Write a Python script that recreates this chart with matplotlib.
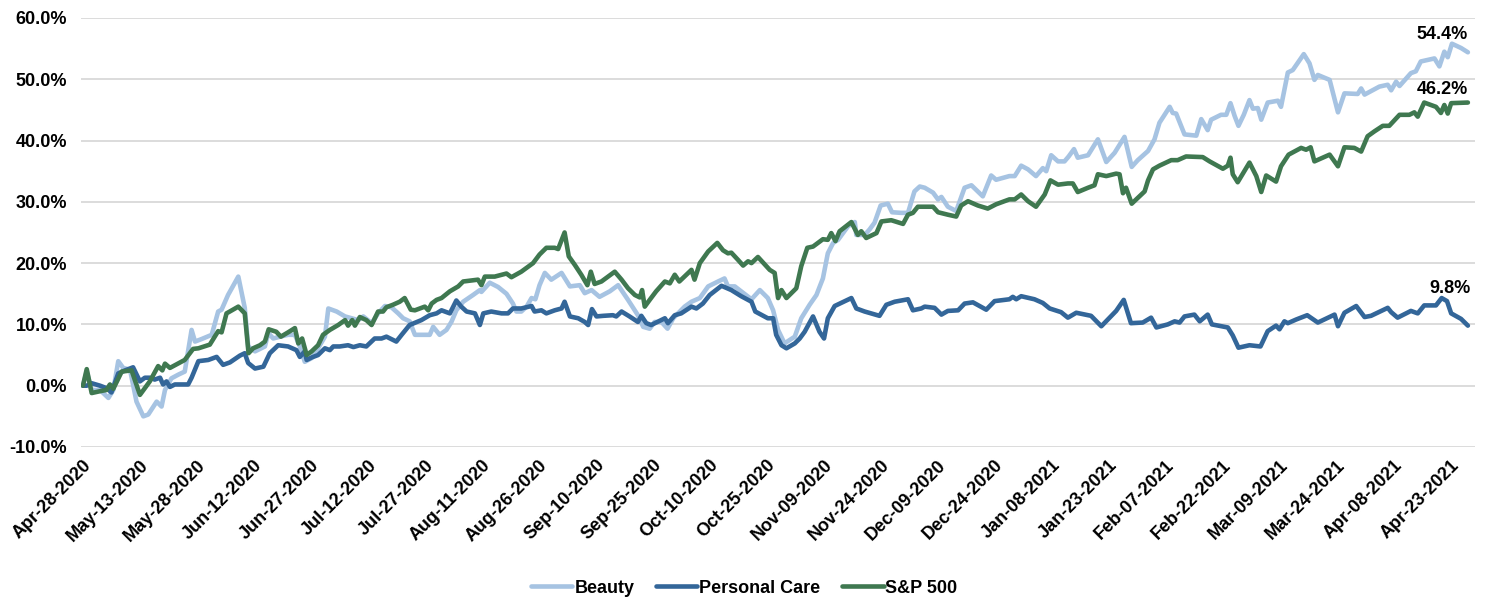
import datetime as dt
import matplotlib
matplotlib.use("Agg")
import matplotlib.pyplot as plt
import matplotlib.dates as mdates

base_date = dt.date(2020, 4, 28)

beauty_days = [
    0, 1.0, 2.3, 4.5, 6.7, 8.0, 9.3, 10.6, 12.4, 14.1,
    15.9, 17.2, 19.4, 20.7, 21.6, 23.3, 25.1, 26.8, 28.6, 29.5,
    31.2, 33.9, 35.6, 36.5, 38.2, 40.9, 42.6, 43.5, 45.3, 47.9,
    48.8, 50.1, 51.9, 54.0, 55.8, 57.1, 58.4, 60.2, 61.9, 63.7,
    64.6, 66.8, 69.0, 70.7, 72.5, 73.8, 76.0, 77.7, 79.5, 81.2,
    83.0, 84.3, 86.0, 87.4, 91.3, 92.2, 93.9, 95.7, 97.0, 98.3,
    100.1, 102.7, 104.5, 104.9, 107.1, 109.3, 111.5, 113.2, 114.1, 115.4,
    116.8, 118.1, 119.1, 120.2, 121.6, 123.3, 126.0, 128.2, 130.8, 132.1,
    133.9, 136.0, 138.7, 140.9, 143.5, 146.1, 147.5, 149.2, 150.5, 152.3,
    153.9, 155.4, 158.4, 160.2, 162.4, 164.6, 167.2, 168.9, 169.8, 171.6,
    176.0, 178.2, 180.3, 181.7, 183.0, 184.7, 187.4, 189.1, 191.3, 193.1,
    194.8, 196.1, 197.5, 198.8, 201.4, 203.2, 203.6, 205.8, 207.1, 208.4,
    210.0, 211.9, 213.0, 215.4, 217.2, 218.9, 220.3, 221.6, 223.8, 225.1,
    226.0, 227.7, 229.9, 232.1, 233.9, 236.9, 239.1, 240.4, 243.9, 245.3,
    247.0, 248.8, 250.9, 252.7, 253.6, 254.9, 256.7, 258.4, 259.5, 260.9,
    261.9, 264.6, 267.2, 269.4, 271.6, 274.2, 276.1, 277.7, 280.4, 282.1,
    283.4, 286.1, 286.9, 287.8, 290.0, 293.1, 294.4, 296.1, 297.0, 299.6,
    301.0, 302.1, 303.2, 304.2, 305.6, 307.1, 308.0, 309.3, 310.2, 311.9,
    314.6, 315.4, 317.2, 318.5, 321.4, 322.9, 324.2, 325.1, 328.2, 330.4,
    332.1, 335.6, 336.5, 337.4, 341.3, 343.5, 344.4, 345.7, 346.6, 349.6,
    350.9, 352.2, 355.8, 357.1, 358.4, 359.3, 360.4, 362.8, 364.6,
]
beauty_pct = [
    0.0, 2.3, -0.7, -0.7, -2.0, -0.7, 4.0, 2.9, 2.6, -2.6,
    -5.0, -4.7, -2.6, -3.4, -0.7, 1.2, 1.8, 2.3, 9.1, 7.2,
    7.6, 8.3, 12.1, 12.4, 14.8, 17.8, 12.7, 6.4, 5.6, 6.4,
    8.6, 7.7, 8.0, 8.3, 8.3, 6.4, 3.9, 4.5, 6.1, 8.0,
    12.6, 12.1, 11.3, 11.0, 10.7, 11.3, 10.2, 11.8, 13.0, 12.8,
    11.8, 11.0, 10.5, 8.3, 8.3, 9.6, 8.3, 9.1, 10.4, 12.3,
    13.7, 14.8, 15.6, 15.3, 16.8, 16.1, 15.0, 13.4, 12.1, 12.1,
    12.9, 14.3, 14.1, 16.4, 18.4, 17.3, 18.4, 16.2, 16.4, 15.1,
    15.6, 14.5, 15.4, 16.4, 14.0, 11.5, 9.6, 9.3, 10.4, 10.4,
    9.3, 11.0, 12.9, 13.7, 14.3, 16.2, 17.0, 17.5, 16.2, 16.2,
    14.1, 15.6, 14.3, 12.3, 9.1, 6.9, 8.0, 11.0, 13.2, 14.8,
    17.5, 21.6, 23.3, 23.8, 26.0, 26.7, 24.6, 24.6, 25.5, 26.6,
    29.4, 29.7, 28.3, 28.2, 28.2, 31.7, 32.5, 32.3, 31.5, 30.4,
    30.8, 29.2, 28.5, 32.3, 32.7, 30.9, 34.3, 33.6, 34.2, 34.2,
    35.9, 35.3, 34.2, 35.5, 35.0, 37.6, 36.6, 36.6, 37.4, 38.6,
    37.2, 37.6, 40.2, 36.5, 38.0, 40.6, 35.7, 36.8, 38.3, 40.2,
    42.9, 45.5, 44.5, 44.4, 41.0, 40.8, 43.5, 41.7, 43.4, 44.2,
    44.2, 46.1, 44.0, 42.4, 44.2, 46.6, 45.2, 45.3, 43.4, 46.2,
    46.5, 45.5, 51.1, 51.5, 54.1, 52.6, 49.9, 50.7, 49.9, 44.6,
    47.7, 47.6, 48.5, 47.5, 48.8, 49.1, 48.2, 49.6, 48.9, 51.0,
    51.3, 52.9, 53.4, 52.1, 54.5, 53.6, 55.8, 55.1, 54.4,
]

care_days = [
    0, 1.0, 2.3, 4.5, 6.2, 7.5, 9.3, 11.1, 13.2, 15.0,
    16.3, 17.6, 18.9, 20.3, 21.1, 22.0, 22.9, 24.2, 27.7, 28.6,
    30.4, 33.0, 35.2, 36.9, 38.7, 41.3, 42.6, 43.5, 45.3, 47.5,
    49.2, 51.4, 54.0, 56.2, 57.1, 58.4, 58.9, 60.2, 61.9, 63.7,
    65.0, 65.9, 67.6, 69.8, 71.2, 72.9, 74.6, 76.8, 78.6, 79.9,
    82.5, 83.9, 86.0, 89.1, 91.3, 93.1, 94.4, 96.6, 98.3, 99.6,
    101.0, 103.2, 104.5, 105.4, 107.5, 110.2, 111.9, 113.2, 115.4, 118.1,
    118.9, 120.7, 122.0, 124.2, 126.0, 126.8, 128.2, 130.4, 132.1, 133.0,
    134.0, 135.2, 137.0, 139.5, 140.4, 141.8, 143.9, 146.1, 147.0, 148.3,
    149.6, 153.2, 154.0, 155.8, 157.5, 160.2, 161.5, 163.2, 165.0, 168.1,
    170.7, 173.3, 176.0, 177.0, 178.2, 180.3, 181.7, 182.5, 183.9, 185.2,
    187.4, 188.7, 190.0, 192.2, 193.9, 195.1, 196.1, 197.9, 202.3, 203.6,
    205.8, 209.7, 211.5, 213.7, 217.2, 218.5, 220.7, 221.6, 224.2, 226.0,
    227.7, 230.4, 232.1, 234.3, 237.8, 240.0, 243.9, 244.8, 245.7, 247.0,
    250.5, 252.7, 254.5, 257.5, 259.3, 261.5, 265.4, 268.1, 272.0, 274.0,
    275.9, 279.0, 281.2, 282.6, 285.6, 287.4, 288.7, 290.0, 292.6, 294.0,
    296.1, 297.2, 300.5, 301.4, 302.7, 304.2, 307.1, 310.0, 311.9, 314.1,
    315.0, 316.3, 317.2, 319.4, 322.3, 325.1, 329.5, 330.4, 332.1, 335.2,
    337.4, 339.1, 343.5, 344.4, 346.1, 349.6, 351.4, 353.1, 356.2, 357.7,
    359.1, 360.2, 362.8, 364.6,
]
care_pct = [
    0.0, 0.0, 0.4, 0.0, -0.4, -1.1, 2.0, 2.5, 3.0, 0.7,
    1.3, 1.3, 1.0, 1.3, 0.2, 0.7, -0.2, 0.2, 0.2, 1.3,
    4.0, 4.2, 4.7, 3.4, 3.8, 4.9, 5.3, 3.7, 2.8, 3.1,
    5.3, 6.6, 6.4, 5.8, 4.7, 5.6, 4.2, 4.6, 5.0, 6.1,
    5.8, 6.4, 6.4, 6.6, 6.3, 6.6, 6.4, 7.7, 7.7, 8.0,
    7.2, 8.3, 9.9, 10.7, 11.5, 11.8, 12.3, 11.8, 13.9, 12.9,
    12.1, 11.8, 9.9, 11.8, 12.1, 11.8, 11.8, 12.6, 12.6, 13.0,
    12.1, 12.3, 11.8, 12.3, 12.6, 13.7, 11.3, 11.0, 10.4, 9.9,
    12.5, 11.3, 11.4, 11.5, 11.3, 12.1, 11.3, 10.4, 11.4, 10.2,
    9.9, 11.0, 10.2, 11.5, 11.8, 12.9, 12.6, 13.4, 14.8, 16.3,
    15.6, 14.6, 13.7, 12.1, 11.7, 11.0, 11.0, 8.3, 6.6, 6.1,
    6.9, 7.7, 8.8, 11.3, 8.8, 7.7, 11.0, 13.0, 14.3, 12.6,
    12.1, 11.4, 13.2, 13.7, 14.1, 12.3, 12.6, 12.9, 12.7, 11.6,
    12.2, 12.3, 13.4, 13.6, 12.4, 13.8, 14.1, 14.5, 14.1, 14.6,
    14.1, 13.5, 12.6, 12.0, 11.1, 11.9, 11.4, 9.7, 12.2, 14.0,
    10.2, 10.3, 11.1, 9.5, 10.0, 10.5, 10.3, 11.3, 11.6, 10.5,
    11.6, 10.0, 9.6, 9.5, 8.2, 6.2, 6.6, 6.4, 8.9, 9.8,
    9.2, 10.5, 10.2, 10.8, 11.5, 10.3, 11.6, 9.7, 11.9, 13.0,
    11.2, 11.4, 12.7, 12.0, 11.1, 12.2, 11.8, 13.1, 13.1, 14.3,
    13.8, 11.8, 10.9, 9.8,
]

sp_days = [
    0, 1.0, 2.3, 4.5, 6.2, 7.1, 8.0, 10.2, 12.8, 15.0,
    17.6, 19.8, 20.9, 21.6, 22.9, 26.8, 29.0, 30.4, 33.4, 35.6,
    36.5, 37.8, 40.9, 42.6, 43.6, 44.8, 46.6, 47.9, 48.9, 50.9,
    52.1, 54.0, 55.8, 56.7, 57.7, 58.9, 60.2, 61.9, 63.2, 65.0,
    67.2, 69.0, 69.8, 70.9, 71.6, 72.9, 74.6, 76.0, 77.7, 79.0,
    79.9, 81.6, 83.4, 84.7, 86.3, 87.4, 90.0, 90.9, 91.8, 93.1,
    94.4, 96.6, 98.8, 100.1, 104.0, 104.9, 105.8, 108.4, 111.5, 112.8,
    115.4, 118.5, 120.2, 122.0, 124.2, 125.1, 126.8, 127.9, 129.5, 131.2,
    132.8, 133.7, 134.7, 136.5, 140.0, 141.8, 143.5, 145.3, 146.6, 147.2,
    147.9, 149.2, 150.9, 153.2, 154.5, 155.8, 157.0, 160.2, 161.0, 162.4,
    164.6, 167.0, 168.5, 169.8, 170.7, 172.5, 173.8, 175.1, 176.0, 177.7,
    180.8, 182.1, 183.0, 183.9, 185.2, 187.8, 189.1, 190.7, 192.2, 194.8,
    196.1, 197.0, 198.1, 199.2, 202.3, 204.0, 204.9, 206.2, 208.9, 210.2,
    212.8, 215.9, 217.2, 218.5, 219.8, 221.6, 223.8, 225.1, 227.7, 229.9,
    231.2, 233.0, 235.6, 238.2, 240.4, 243.9, 245.3, 247.0, 248.8, 250.9,
    253.2, 254.7, 256.7, 259.3, 260.6, 261.9, 264.6, 266.3, 267.2, 269.4,
    272.0, 272.9, 273.8, 274.6, 276.1, 279.5, 280.4, 281.7, 283.4, 286.5,
    288.2, 290.4, 294.8, 296.6, 300.1, 301.4, 302.1, 302.7, 304.0, 307.1,
    308.9, 310.2, 311.5, 314.1, 315.4, 317.4, 320.7, 322.0, 323.2, 324.2,
    328.2, 330.4, 332.1, 334.7, 336.5, 338.2, 340.0, 342.2, 343.9, 346.6,
    349.2, 350.5, 351.4, 353.1, 356.2, 357.5, 358.4, 359.3, 360.2, 364.6,
]
sp_pct = [
    0.0, 2.7, -1.2, -0.9, -0.7, 0.2, -0.5, 2.3, 2.5, -1.5,
    0.7, 3.2, 2.5, 3.6, 2.9, 4.2, 6.0, 6.1, 6.7, 8.9,
    8.7, 11.8, 12.9, 11.8, 5.3, 6.1, 6.6, 7.2, 9.2, 8.8,
    8.0, 8.7, 9.4, 6.9, 7.7, 5.0, 5.6, 6.6, 8.3, 9.1,
    9.9, 10.7, 9.8, 10.7, 9.8, 11.2, 10.7, 9.9, 12.1, 12.1,
    12.8, 13.2, 13.7, 14.3, 12.4, 12.3, 12.9, 12.3, 13.4, 14.0,
    14.3, 15.4, 16.2, 17.0, 17.3, 16.4, 17.8, 17.8, 18.3, 17.7,
    18.6, 20.0, 21.4, 22.5, 22.5, 22.3, 25.0, 21.1, 19.7, 18.1,
    16.4, 18.6, 16.6, 17.0, 18.6, 17.3, 15.9, 14.8, 14.4, 15.6,
    12.9, 14.0, 15.4, 17.0, 16.7, 18.1, 17.0, 18.9, 17.3, 20.0,
    21.9, 23.3, 22.1, 21.6, 21.7, 20.5, 19.6, 20.3, 20.0, 21.0,
    18.9, 18.4, 14.3, 15.6, 14.3, 15.9, 19.5, 22.5, 22.7, 23.9,
    23.8, 24.9, 23.6, 25.2, 26.7, 24.6, 25.2, 24.1, 24.9, 26.8,
    27.0, 26.4, 27.9, 28.2, 29.2, 29.2, 29.2, 28.3, 27.9, 27.6,
    29.4, 30.1, 29.4, 28.9, 29.6, 30.4, 30.4, 31.2, 30.1, 29.2,
    31.2, 33.5, 32.8, 33.0, 33.0, 31.6, 32.3, 32.7, 34.5, 34.2,
    34.6, 34.5, 31.4, 32.3, 29.7, 31.7, 33.5, 35.3, 35.9, 36.8,
    36.8, 37.4, 37.3, 36.6, 35.4, 35.9, 37.2, 34.5, 33.2, 36.4,
    34.2, 31.6, 34.3, 33.3, 35.8, 37.7, 38.8, 38.5, 38.9, 36.6,
    37.7, 35.8, 38.9, 38.8, 38.2, 40.7, 41.5, 42.4, 42.4, 44.2,
    44.2, 44.6, 43.9, 46.2, 45.5, 44.5, 45.8, 44.4, 46.1, 46.2,
]

series_names = ["Beauty", "Personal Care", "S&P 500"]
series_colors = ["#A6C3E2", "#336699", "#3F7850"]
end_labels = ["54.4%", "9.8%", "46.2%"]
end_offsets_px = [(0, 9), (3, 29), (0, 5)]

tick_step_days = 15
n_ticks = 25
y_ticks = [-10, 0, 10, 20, 30, 40, 50, 60]

plt.rcParams["font.family"] = ["Liberation Sans", "DejaVu Sans"]
plt.rcParams["font.weight"] = "bold"

fig = plt.figure(figsize=(14.87, 5.99), dpi=100)
ax = fig.add_axes([0.0545, 0.2538, 0.9375, 0.7162])

base_num = mdates.date2num(dt.datetime.combine(base_date, dt.time()))

def to_dates(days):
    return [base_num + d for d in days]

all_series = [(beauty_days, beauty_pct), (care_days, care_pct), (sp_days, sp_pct)]
for (d, v), name, col, lab, off in zip(all_series, series_names, series_colors, end_labels, end_offsets_px):
    xs = to_dates(d)
    ax.plot(xs, v, color=col, lw=3.3, solid_joinstyle="round", solid_capstyle="round", label=name)
    ax.annotate(lab, xy=(xs[-1], v[-1]), xytext=off, textcoords="offset pixels",
                ha="right", va="bottom", fontsize=13, fontweight="bold", color="black")

ax.set_ylim(-10, 60)
ax.set_yticks(y_ticks)
ax.set_yticklabels([f"{t:.1f}%" for t in y_ticks])
ax.set_xlim(base_num - 0.5, base_num + 366.5)
ticks = [base_num + i * tick_step_days for i in range(n_ticks)]
ax.set_xticks(ticks)
ax.set_xticklabels([mdates.num2date(t).strftime("%b-%d-%Y") for t in ticks],
                   rotation=45, ha="right", rotation_mode="anchor")

ax.grid(axis="y", color="#D9D9D9", lw=1.3)
ax.set_axisbelow(True)
for s in ax.spines.values():
    s.set_visible(False)
ax.tick_params(axis="both", length=0, labelsize=13)
ax.tick_params(axis="y", pad=10)
ax.tick_params(axis="x", pad=7)
for lbl in ax.get_xticklabels() + ax.get_yticklabels():
    lbl.set_fontweight("bold")

leg = fig.legend(loc="center", bbox_to_anchor=(0.5005, 0.018), ncol=3, frameon=False,
                 fontsize=13, handlelength=2.3, columnspacing=1.2, handletextpad=0.1)
for t in leg.get_texts():
    t.set_fontweight("bold")

fig.savefig("out.png", dpi=100)
